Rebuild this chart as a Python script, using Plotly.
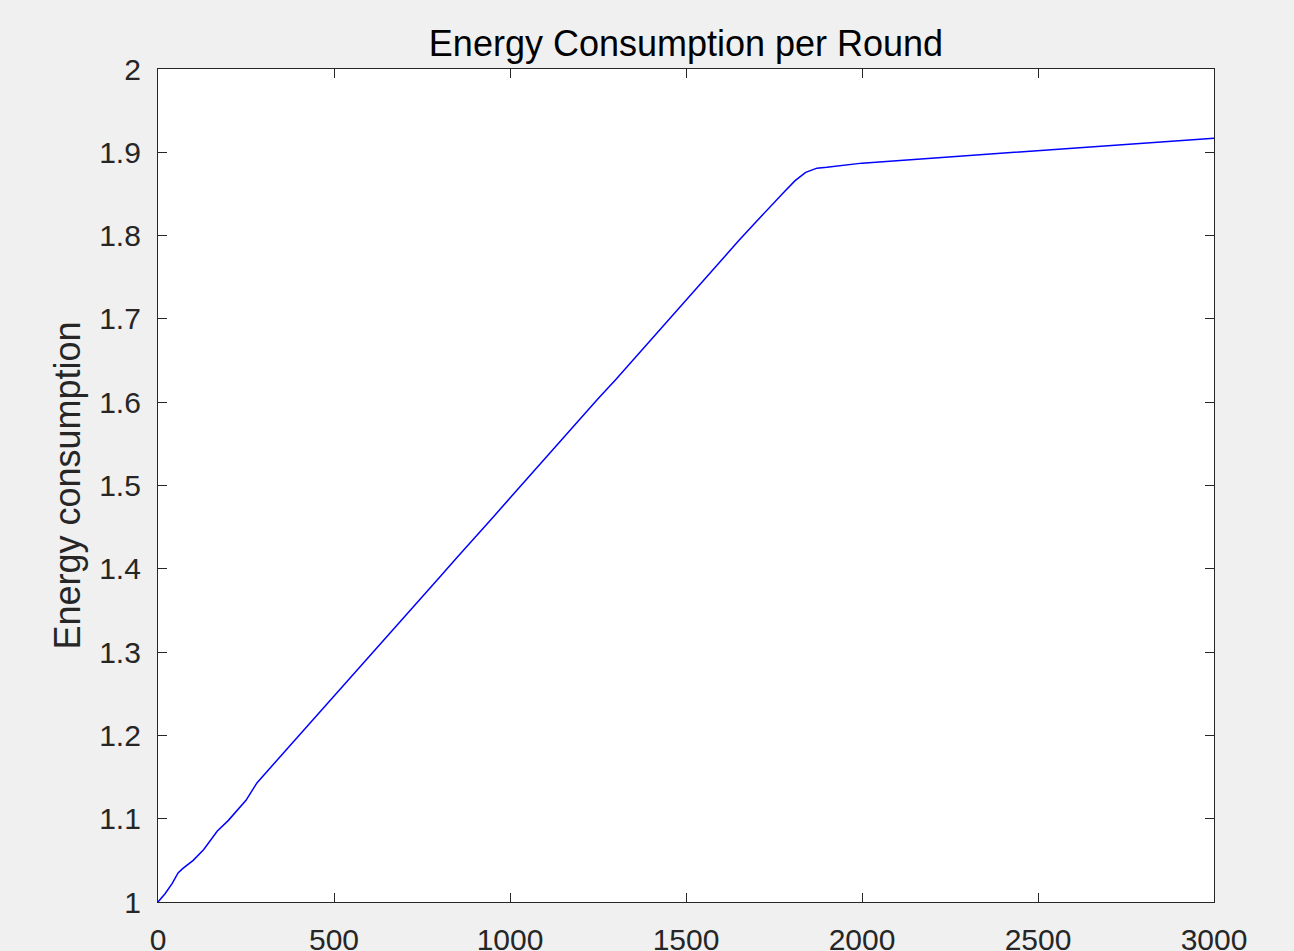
import plotly.graph_objects as go

rounds = [0, 20, 40, 57, 70, 100, 130, 168, 200, 250, 281, 300, 350, 400, 450, 500,
          550, 600, 650, 700, 750, 800, 850, 900, 950, 1000, 1050, 1100, 1150, 1200,
          1250, 1300, 1350, 1400, 1450, 1500, 1550, 1600, 1650, 1700, 1750, 1780,
          1810, 1840, 1872, 1900, 2000, 2200, 2400, 2600, 2800, 3000]
energy = [1.000, 1.010, 1.022, 1.035, 1.040, 1.050, 1.063, 1.085, 1.098, 1.122, 1.143,
          1.152, 1.176, 1.200, 1.223, 1.247, 1.271, 1.295, 1.319, 1.342, 1.366, 1.390,
          1.414, 1.437, 1.461, 1.485, 1.509, 1.532, 1.556, 1.580, 1.604, 1.627, 1.651,
          1.675, 1.699, 1.722, 1.746, 1.770, 1.794, 1.817, 1.840, 1.853, 1.866, 1.876,
          1.881, 1.882, 1.887, 1.893, 1.899, 1.905, 1.911, 1.917]

x_ticks = [0, 500, 1000, 1500, 2000, 2500, 3000]
y_ticks = [1, 1.1, 1.2, 1.3, 1.4, 1.5, 1.6, 1.7, 1.8, 1.9, 2]
y_tick_text = ["1", "1.1", "1.2", "1.3", "1.4", "1.5", "1.6", "1.7", "1.8", "1.9", "2"]

FONT = "Liberation Sans, Arial, sans-serif"

fig = go.Figure()
fig.add_trace(go.Scatter(x=rounds, y=energy, mode="lines",
                         line=dict(color="#0000ff", width=1.5), showlegend=False))

axis_common = dict(showgrid=False, zeroline=False, showline=True, mirror="ticks",
                   linecolor="#262626", linewidth=1.3, ticks="inside", ticklen=9,
                   tickcolor="#262626", tickwidth=1, automargin=False,
                   tickfont=dict(family=FONT, size=30, color="#262626"))

fig.update_layout(
    width=1294, height=951,
    paper_bgcolor="#f0f0f0", plot_bgcolor="#ffffff",
    margin=dict(l=158, r=80, t=69, b=49),
    title=dict(text="Energy Consumption per Round", x=0.5, xanchor="center", xref="paper",
               y=1 - 43 / 951, yanchor="middle",
               font=dict(family=FONT, size=36, color="#000000")),
    xaxis=dict(range=[0, 3000], tickvals=x_ticks, ticktext=[str(v) for v in x_ticks],
               ticklabelstandoff=11, **axis_common),
    yaxis=dict(range=[1, 2], tickvals=y_ticks, ticktext=y_tick_text,
               ticklabelstandoff=10,
               title=dict(text="Energy consumption", standoff=7,
                          font=dict(family=FONT, size=36, color="#262626")),
               **axis_common),
)

fig.write_html("out.html", config={"displayModeBar": False},
               post_script="document.body.style.margin='0';document.body.style.background='#f0f0f0';")
